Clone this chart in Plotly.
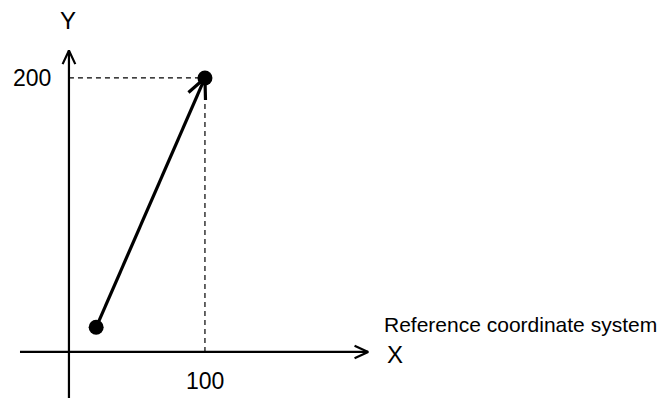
import math
import plotly.graph_objects as go

# --- data ---
x_ticks = [100]
y_ticks = [200]
start_pt = [20, 18]
end_pt = [100, 200]
x_axis_extent = [-36, 220]
y_axis_extent = [-34, 220]
axis_labels = ["X", "Y"]
caption = "Reference coordinate system"

W, H = 663, 398
XR = [-50.7, 436.8]
YR = [-33.6, 256.9]
SX = W / (XR[1] - XR[0])   # px per unit
SY = H / (YR[1] - YR[0])
FONT = "Arial, Liberation Sans, sans-serif"


def open_head(tip, tail, length, half_angle):
    """Return x/y lists for an open V arrowhead at tip, pointing from tail."""
    dx = (tip[0] - tail[0]) * SX
    dy = (tip[1] - tail[1]) * SY
    ang = math.atan2(dy, dx)
    xs, ys = [], []
    for s in (1, -1):
        a = ang + math.pi + s * math.radians(half_angle)
        xs.append(tip[0] + length * math.cos(a) / SX)
        ys.append(tip[1] + length * math.sin(a) / SY)
    return [xs[0], tip[0], xs[1]], [ys[0], tip[1], ys[1]]


fig = go.Figure()
line = dict(color="black", width=2.2)

# axes
fig.add_trace(go.Scatter(x=x_axis_extent, y=[0, 0], mode="lines", line=line))
fig.add_trace(go.Scatter(x=[0, 0], y=y_axis_extent, mode="lines", line=line))
hx, hy = open_head((x_axis_extent[1], 0), (0, 0), 15, 25)
fig.add_trace(go.Scatter(x=hx, y=hy, mode="lines", line=line))
hx, hy = open_head((0, y_axis_extent[1]), (0, 0), 15, 25)
fig.add_trace(go.Scatter(x=hx, y=hy, mode="lines", line=line))

# dashed guides
dash = dict(color="black", width=1.2, dash="5px,4px")
fig.add_trace(go.Scatter(x=[0, end_pt[0]], y=[end_pt[1], end_pt[1]], mode="lines", line=dash))
fig.add_trace(go.Scatter(x=[end_pt[0], end_pt[0]], y=[0, end_pt[1]], mode="lines", line=dash))

# vector
vline = dict(color="black", width=3.2)
fig.add_trace(go.Scatter(x=[start_pt[0], end_pt[0]], y=[start_pt[1], end_pt[1]],
                         mode="lines", line=vline))
hx, hy = open_head(end_pt, start_pt, 22, 25)
fig.add_trace(go.Scatter(x=hx, y=hy, mode="lines", line=vline))
fig.add_trace(go.Scatter(x=[start_pt[0], end_pt[0]], y=[start_pt[1], end_pt[1]],
                         mode="markers", marker=dict(color="black", size=15)))

# text
ann = [
    dict(x=x_ticks[0], y=0, text=str(x_ticks[0]), yshift=-29, font_size=23),
    dict(x=0, y=y_ticks[0], text=str(y_ticks[0]), xshift=-37, font_size=23),
    dict(x=0, y=y_axis_extent[1], text=axis_labels[1], yshift=30, xshift=-1, font_size=24),
    dict(x=x_axis_extent[1], y=0, text=axis_labels[0], xshift=27, yshift=-3, font_size=24),
    dict(x=x_axis_extent[1], y=0, text=caption, xshift=14, yshift=27,
         xanchor="left", font_size=21),
]
for a in ann:
    a.setdefault("xanchor", "center")
    fig.add_annotation(showarrow=False, yanchor="middle",
                       font=dict(family=FONT, color="black", size=a.pop("font_size")), **a)

fig.update_layout(
    width=W, height=H,
    margin=dict(l=0, r=0, t=0, b=0),
    paper_bgcolor="white", plot_bgcolor="white",
    showlegend=False,
    xaxis=dict(range=XR, visible=False, fixedrange=True),
    yaxis=dict(range=YR, visible=False, fixedrange=True),
)

fig.write_html("out.html", config={"displayModeBar": False},
               post_script="document.body.style.margin='0';")
